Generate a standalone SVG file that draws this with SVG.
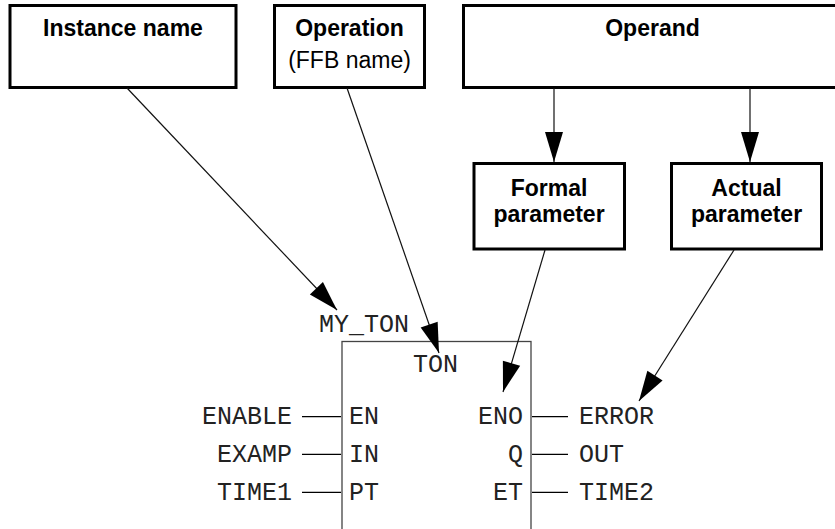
<svg xmlns="http://www.w3.org/2000/svg" width="835" height="529" viewBox="0 0 835 529">
  <style>
    .box { fill: #fff; stroke: #000; stroke-width: 3; }
    .lbl { font-family: "Liberation Sans", Arial, sans-serif; font-weight: bold; font-size: 23px; fill: #000; text-anchor: middle; }
    .sub { font-family: "Liberation Sans", Arial, sans-serif; font-size: 23px; fill: #000; text-anchor: middle; }
    .mono { font-family: "Liberation Mono", "Courier New", monospace; font-size: 25px; fill: #222; }
    .end { text-anchor: end; }
    .conn { stroke: #111; stroke-width: 1.2; fill: none; marker-end: url(#arrow); }
    .wire { stroke: #000; stroke-width: 1.3; fill: none; }
    .fb { fill: #fff; stroke: #444; stroke-width: 1.3; }
  </style>
  <defs>
    <marker id="arrow" markerUnits="userSpaceOnUse" markerWidth="30" markerHeight="18" refX="30" refY="9" orient="auto" overflow="visible">
      <path d="M0,0 L30,9 L0,18 Z" fill="#000"/>
    </marker>
  </defs>

  <rect width="835" height="529" fill="#fff"/>

  <!-- Annotation boxes -->
  <g id="instance-name">
    <rect class="box" x="10" y="5.5" width="226" height="82"/>
    <text class="lbl" x="123" y="36">Instance name</text>
  </g>
  <g id="operation">
    <rect class="box" x="274.5" y="5.5" width="150" height="82"/>
    <text class="lbl" x="349.5" y="36">Operation</text>
    <text class="sub" x="349.5" y="68">(FFB name)</text>
  </g>
  <g id="operand">
    <rect class="box" x="463.5" y="5.5" width="380" height="82"/>
    <text class="lbl" x="652.5" y="36">Operand</text>
  </g>
  <g id="formal-parameter">
    <rect class="box" x="474" y="163.5" width="150.5" height="85.5"/>
    <text class="lbl" x="549" y="195.5">Formal</text>
    <text class="lbl" x="549" y="222">parameter</text>
  </g>
  <g id="actual-parameter">
    <rect class="box" x="671.5" y="163.5" width="150" height="85.5"/>
    <text class="lbl" x="746.5" y="195.5">Actual</text>
    <text class="lbl" x="746.5" y="222">parameter</text>
  </g>

  <!-- Function block TON -->
  <g id="ton-block">
    <rect class="fb" x="342" y="341.5" width="189" height="200"/>
    <text class="mono" x="319" y="332">MY_TON</text>
    <text class="mono" x="413" y="372">TON</text>
    <text class="mono" x="349" y="423.5">EN</text>
    <text class="mono" x="349" y="461.5">IN</text>
    <text class="mono" x="349" y="500">PT</text>
    <text class="mono end" x="523" y="423.5">ENO</text>
    <text class="mono end" x="523" y="461.5">Q</text>
    <text class="mono end" x="523" y="500">ET</text>
  </g>
  <g id="inputs">
    <text class="mono end" x="292" y="423.5">ENABLE</text>
    <text class="mono end" x="292" y="461.5">EXAMP</text>
    <text class="mono end" x="292" y="500">TIME1</text>
    <line class="wire" x1="302" y1="416.7" x2="341" y2="416.7"/>
    <line class="wire" x1="302" y1="454.3" x2="341" y2="454.3"/>
    <line class="wire" x1="302" y1="492.3" x2="341" y2="492.3"/>
  </g>
  <g id="outputs">
    <text class="mono" x="579" y="423.5">ERROR</text>
    <text class="mono" x="579" y="461.5">OUT</text>
    <text class="mono" x="579" y="500">TIME2</text>
    <line class="wire" x1="532" y1="416.7" x2="568" y2="416.7"/>
    <line class="wire" x1="532" y1="454.3" x2="568" y2="454.3"/>
    <line class="wire" x1="532" y1="492.3" x2="568" y2="492.3"/>
  </g>

  <!-- Connectors -->
  <g id="connectors">
    <line class="conn" x1="127" y1="88" x2="337" y2="310"/>
    <line class="conn" x1="347" y1="88" x2="439" y2="353"/>
    <line class="conn" x1="554" y1="88" x2="554" y2="162"/>
    <line class="conn" x1="750" y1="88" x2="750" y2="162"/>
    <line class="conn" x1="545" y1="250" x2="503" y2="392"/>
    <line class="conn" x1="734" y1="250" x2="639" y2="401"/>
  </g>
</svg>
